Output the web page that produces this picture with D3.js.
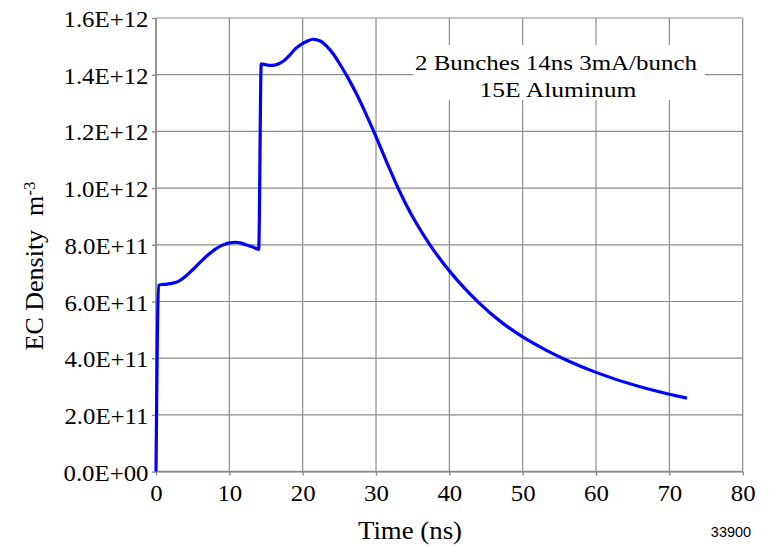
<html>
<head>
    <meta http-equiv='Content-Type' content='text/html; charset=utf-8'>
    <script src="https://d3js.org/d3.v7.min.js" charset="utf-8"></script>

    <style>

    body {
        margin: 0px;
        background: #ffffff;
    }

    svg text {
        font-family: "Liberation Serif", "Times New Roman", serif;
        fill: #000000;
    }

    svg .grid line {
        stroke: #8c8c8c;
        stroke-width: 1.2;
    }

    svg .axis path, svg .axis line {
        stroke: #8c8c8c;
        stroke-width: 1.4;
    }

    svg .curve {
        fill: none;
        stroke: #0000ff;
        stroke-width: 3.2;
        stroke-linejoin: round;
    }

    </style>
</head>

<body>

    <script>

    var w = 769;
    var h = 547;

    /* Values: time in ns, density in units of 1E+11 m^-3 */
    var time = [0, 0.35, 0.8, 1.5, 2.0, 3.0, 4.0, 5.0, 6.0, 7.0, 8.0, 9.0, 10.0, 10.8, 11.6, 12.4, 13.2, 14.0,
                14.35, 15.0, 15.8, 16.6, 17.4, 18.2, 19.0, 19.8, 20.6, 21.4, 22.4, 23.3, 24.2, 25.1,
                26.2, 27.4, 28.5, 29.6, 30.8, 32.0, 33.0, 34.2, 35.5, 37.4, 40.0, 42.0, 43.9, 47.0,
                50.0, 53.3, 56.0, 60.0, 66.0, 70.0, 72.4];
    var density = [0, 6.57, 6.6, 6.61, 6.63, 6.70, 6.88, 7.12, 7.38, 7.62, 7.83, 7.98, 8.07, 8.09, 8.06, 7.99, 7.92, 7.84,
                   14.38, 14.35, 14.33, 14.37, 14.48, 14.68, 14.91, 15.07, 15.18, 15.25, 15.19, 15.0, 14.72, 14.36,
                   13.88, 13.29, 12.69, 12.05, 11.32, 10.59, 10.01, 9.37, 8.76, 7.98, 7.08, 6.49, 5.99, 5.29,
                   4.75, 4.27, 3.93, 3.5, 2.99, 2.73, 2.59];

    var xTicks = [0, 10, 20, 30, 40, 50, 60, 70, 80];
    var yTicks = [0, 2e11, 4e11, 6e11, 8e11, 1e12, 1.2e12, 1.4e12, 1.6e12];
    var legendLines = ["2 Bunches 14ns 3mA/bunch", "15E Aluminum"];
    var xTitle = "Time (ns)";
    var figNumber = "33900";

    /* plot box (window.top is read-only, so no plain "top") */
    var pLeft = 156, pRight = 742.7, pTop = 18, pBottom = 471.6;

    var x = d3.scaleLinear().domain([0, 80]).range([pLeft, pRight]);
    var y = d3.scaleLinear().domain([0, 1.6e12]).range([pBottom, pTop]);

    function sci(v) {
        if (v === 0) return "0.0E+00";
        var e = Math.floor(Math.log10(v) + 1e-9);
        var m = v / Math.pow(10, e);
        return m.toFixed(1) + "E+" + (e < 10 ? "0" + e : e);
    }

    var svg = d3.select("body")
    .append("svg")
    .attr("width", w)
    .attr("height", h);

    /* Grid */
    var grid = svg.append("g").attr("class", "grid");

    grid.selectAll("line.v")
    .data(xTicks)
    .enter()
    .append("line")
    .attr("x1", function(d) { return x(d); })
    .attr("x2", function(d) { return x(d); })
    .attr("y1", pTop)
    .attr("y2", pBottom);

    grid.selectAll("line.h")
    .data(yTicks)
    .enter()
    .append("line")
    .attr("x1", pLeft)
    .attr("x2", pRight)
    .attr("y1", function(d) { return y(d); })
    .attr("y2", function(d) { return y(d); });

    /* Axes */
    var xAxis = svg.append("g")
    .attr("class", "axis")
    .attr("transform", "translate(0," + pBottom + ")")
    .call(d3.axisBottom(x).tickValues(xTicks).tickSize(4).tickPadding(9).tickSizeOuter(0));

    xAxis.selectAll("text")
    .style("font-size", "23px")
    .style("font-family", "'Liberation Serif', serif")
    .attr("transform", "scale(1.08,1)");

    var yAxis = svg.append("g")
    .attr("class", "axis")
    .attr("transform", "translate(" + pLeft + ",0)")
    .call(d3.axisLeft(y).tickValues(yTicks).tickFormat(sci).tickSize(4).tickSizeOuter(0));

    yAxis.selectAll("text")
    .style("font-size", "23px")
    .style("font-family", "'Liberation Serif', serif")
    .attr("x", 0)
    .attr("dy", "0.37em")
    .attr("transform", "translate(-7.5,0) scale(1.08,1)");

    xAxis.select(".domain").remove();
    yAxis.select(".domain").remove();

    svg.append("line")
    .attr("x1", pLeft).attr("x2", pLeft).attr("y1", pTop).attr("y2", pBottom)
    .style("stroke", "#8c8c8c").style("stroke-width", 1.6);
    svg.append("line")
    .attr("x1", pLeft).attr("x2", pRight).attr("y1", pBottom).attr("y2", pBottom)
    .style("stroke", "#8c8c8c").style("stroke-width", 1.6);

    /* Legend box */
    svg.append("rect")
    .attr("x", 413)
    .attr("y", 45)
    .attr("width", 292)
    .attr("height", 55)
    .style("fill", "#ffffff");

    svg.selectAll("text.legend")
    .data(legendLines)
    .enter()
    .append("text")
    .attr("class", "legend")
    .attr("x", function(d, i) { return i === 0 ? 556 : 558; })
    .attr("y", function(d, i) { return 69.5 + i * 27; })
    .attr("text-anchor", "middle")
    .attr("textLength", function(d, i) { return i === 0 ? 282 : 157; })
    .attr("lengthAdjust", "spacingAndGlyphs")
    .style("font-size", "21.5px")
    .text(function(d) { return d; });

    /* Curve */
    var points = time.map(function(t, i) { return [t, density[i] * 1e11]; });

    var line = d3.line()
    .x(function(d) { return x(d[0]); })
    .y(function(d) { return y(d[1]); })
    .curve(d3.curveMonotoneX);

    svg.append("path")
    .datum(points)
    .attr("class", "curve")
    .attr("d", line);

    /* Titles */
    svg.append("text")
    .attr("x", 410)
    .attr("y", 538.5)
    .attr("text-anchor", "middle")
    .attr("textLength", 104)
    .attr("lengthAdjust", "spacingAndGlyphs")
    .style("font-size", "25px")
    .text(xTitle);

    var yt = svg.append("text")
    .attr("transform", "translate(43,266) rotate(-90)")
    .attr("text-anchor", "middle")
    .style("font-size", "26px");
    yt.append("tspan").text("EC Density");
    yt.append("tspan").attr("dx", 14).text("m");
    yt.append("tspan").attr("dy", "-0.45em").style("font-size", "17px").text("-3");

    svg.append("text")
    .attr("x", 731)
    .attr("y", 536.5)
    .attr("text-anchor", "middle")
    .style("font-family", "'Liberation Sans', Arial, sans-serif")
    .style("font-size", "14.5px")
    .text(figNumber);

    </script>

</body>
</html>
